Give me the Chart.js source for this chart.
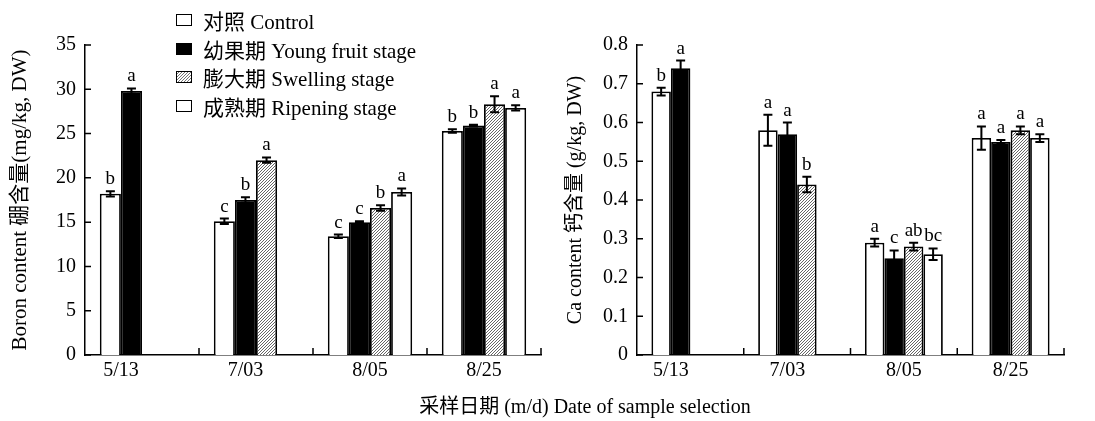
<!DOCTYPE html>
<html><head><meta charset="utf-8">
<script src="https://cdn.jsdelivr.net/npm/chart.js@4.4.0/dist/chart.umd.min.js"></script>
<style>
html,body{margin:0;padding:0;background:#fff;width:1095px;height:421px;overflow:hidden;position:relative;font-family:"Liberation Serif","Noto Sans CJK SC",serif;color:#000;}
#c1{position:absolute;left:0;top:0;}
#c2{position:absolute;left:545px;top:0;}
#legend{position:absolute;left:176px;top:6px;font-size:21px;}
.item{display:flex;align-items:center;height:28.5px;white-space:nowrap}
.box{width:16px;height:12px;border:1.8px solid #000;margin-right:11px;box-sizing:border-box}
#xtitle{position:absolute;top:395px;left:0;width:1170px;text-align:center;font-size:20px;line-height:23px}
</style>
</head><body>
<canvas id="c1" width="545" height="421"></canvas>
<canvas id="c2" width="550" height="421"></canvas>
<div id="legend"></div>
<div id="xtitle">采样日期 (m/d) Date of sample selection</div>
<script>
// ---- data ----
const categories = ['5/13', '7/03', '8/05', '8/25'];
const seriesNames = ['对照 Control', '幼果期 Young fruit stage', '膨大期 Swelling stage', '成熟期 Ripening stage'];

const boronControl  = [18.2, 15.1, 13.4, 25.3];
const boronYoung    = [29.8, 17.5, 15.0, 25.9];
const boronSwelling = [null, 22.0, 16.6, 28.3];
const boronRipening = [null, null, 18.4, 27.9];
const boronControlErr  = [0.3, 0.3, 0.2, 0.2];
const boronYoungErr    = [0.3, 0.3, 0.1, 0.1];
const boronSwellingErr = [null, 0.3, 0.3, 0.9];
const boronRipeningErr = [null, null, 0.4, 0.3];
const boronControlSig  = ['b', 'c', 'c', 'b'];
const boronYoungSig    = ['a', 'b', 'c', 'b'];
const boronSwellingSig = [null, 'a', 'b', 'a'];
const boronRipeningSig = [null, null, 'a', 'a'];

const caControl  = [0.68, 0.58, 0.29, 0.56];
const caYoung    = [0.74, 0.57, 0.25, 0.55];
const caSwelling = [null, 0.44, 0.28, 0.58];
const caRipening = [null, null, 0.26, 0.56];
const caControlErr  = [0.01, 0.04, 0.01, 0.03];
const caYoungErr    = [0.02, 0.03, 0.02, 0.005];
const caSwellingErr = [null, 0.02, 0.01, 0.01];
const caRipeningErr = [null, null, 0.015, 0.01];
const caControlSig  = ['b', 'a', 'a', 'a'];
const caYoungSig    = ['a', 'a', 'c', 'a'];
const caSwellingSig = [null, 'b', 'ab', 'a'];
const caRipeningSig = [null, null, 'bc', 'a'];

const boronTitle = 'Boron content 硼含量(mg/kg, DW)';
const caTitle = 'Ca content 钙含量 (g/kg, DW)';

// ---- styling ----
const FONT = "'Liberation Serif', 'Noto Sans CJK SC', serif";
function makeHatch() {
  const c = document.createElement('canvas'); c.width = 3; c.height = 3;
  const g = c.getContext('2d');
  g.fillStyle = '#fff'; g.fillRect(0, 0, 3, 3);
  g.strokeStyle = '#666'; g.lineWidth = 1;
  g.beginPath();
  g.moveTo(0, 3); g.lineTo(3, 0);
  g.moveTo(-1, 1); g.lineTo(1, -1);
  g.moveTo(2, 4); g.lineTo(4, 2);
  g.stroke();
  return g.createPattern(c, 'repeat');
}
const hatch = makeHatch();
const fills = ['#ffffff', '#000000', hatch, '#ffffff'];

// legend (HTML)
const legendFills = ['#fff', '#000', 'repeating-linear-gradient(135deg,#fff 0 1.2px,#777 1.2px 2.1px)', '#fff'];
const leg = document.getElementById('legend');
seriesNames.forEach((n, i) => {
  const d = document.createElement('div'); d.className = 'item';
  const b = document.createElement('span'); b.className = 'box'; b.style.background = legendFills[i];
  const t = document.createElement('span'); t.textContent = n;
  d.appendChild(b); d.appendChild(t); leg.appendChild(d);
});

const decor = {
  id: 'decor',
  afterDatasetsDraw(chart) {
    const ctx = chart.ctx, y = chart.scales.y, x = chart.scales.x;
    ctx.save();
    ctx.strokeStyle = '#000'; ctx.fillStyle = '#000';
    // error bars + letters
    chart.data.datasets.forEach((ds, di) => {
      const meta = chart.getDatasetMeta(di);
      meta.data.forEach((bar, i) => {
        const v = ds.data[i]; if (v == null) return;
        const e = ds.errors[i] || 0;
        const top = y.getPixelForValue(v + e), bot = y.getPixelForValue(v - e);
        if (e > 0) {
          ctx.lineWidth = 2;
          ctx.beginPath();
          ctx.moveTo(bar.x, top); ctx.lineTo(bar.x, bot);
          ctx.moveTo(bar.x - 4.5, top); ctx.lineTo(bar.x + 4.5, top);
          ctx.moveTo(bar.x - 4.5, bot); ctx.lineTo(bar.x + 4.5, bot);
          ctx.stroke();
        }
        if (ds.sig[i]) {
          ctx.font = "19px " + FONT;
          ctx.textAlign = 'center'; ctx.textBaseline = 'alphabetic';
          ctx.fillText(ds.sig[i], bar.x, top - 7);
        }
      });
    });
    // inward ticks on y axis
    ctx.lineWidth = 1.5;
    ctx.beginPath();
    y.ticks.forEach(t => {
      const py = y.getPixelForValue(t.value);
      ctx.moveTo(y.right, py); ctx.lineTo(y.right + 6, py);
    });
    // inward ticks at category boundaries on x axis
    for (let i = 1; i <= categories.length; i++) {
      const px = x.getPixelForValue(i - 0.5);
      ctx.moveTo(px, x.top); ctx.lineTo(px, x.top - 7);
    }
    ctx.stroke();
    // category labels centred under the bars present
    ctx.font = "20px " + FONT;
    ctx.textAlign = 'center'; ctx.textBaseline = 'top';
    chart.data.labels.forEach((lab, i) => {
      const xs = [];
      chart.data.datasets.forEach((ds, di) => {
        if (ds.data[i] != null) xs.push(chart.getDatasetMeta(di).data[i].x);
      });
      const cx = (Math.min(...xs) + Math.max(...xs)) / 2;
      ctx.fillText(lab, cx, x.top + 6);
    });
    ctx.restore();
  }
};

function build(id, series, errs, sigs, ymax, step, title, titleSize, padL, padR, yW, catPct) {
  const datasets = series.map((s, i) => ({
    label: seriesNames[i], data: s, errors: errs[i], sig: sigs[i],
    backgroundColor: fills[i], borderColor: '#000', borderWidth: 1.8,
    categoryPercentage: catPct, barPercentage: 1.0
  }));
  return new Chart(document.getElementById(id), {
    type: 'bar',
    data: { labels: categories, datasets },
    options: {
      responsive: false, animation: false, devicePixelRatio: 1,
      layout: { padding: { top: 45, left: padL, right: padR, bottom: 0 } },
      plugins: { legend: { display: false }, tooltip: { enabled: false } },
      scales: {
        x: {
          grid: { display: false, drawTicks: false },
          border: { display: true, color: '#000', width: 1.5 },
          ticks: { display: false },
          afterFit(s) { s.height = 66; }
        },
        y: {
          min: 0, max: ymax,
          grid: { display: false, drawTicks: false },
          border: { display: true, color: '#000', width: 1.5 },
          ticks: { stepSize: step, padding: 9, color: '#000', font: { family: FONT, size: 20 } },
          title: { display: true, text: title, color: '#000', font: { family: FONT, size: titleSize }, padding: { top: 4, bottom: 4 } },
          afterFit(s) { s.width = yW; }
        }
      }
    },
    plugins: [decor]
  });
}

build('c1',
  [boronControl, boronYoung, boronSwelling, boronRipening],
  [boronControlErr, boronYoungErr, boronSwellingErr, boronRipeningErr],
  [boronControlSig, boronYoungSig, boronSwellingSig, boronRipeningSig],
  35, 5, boronTitle, 21, 3.5, 4, 81.5, 0.74);
build('c2',
  [caControl, caYoung, caSwelling, caRipening],
  [caControlErr, caYoungErr, caSwellingErr, caRipeningErr],
  [caControlSig, caYoungSig, caSwellingSig, caRipeningSig],
  0.8, 0.1, caTitle, 20, 15, 31, 77, 0.73);
</script>
</body></html>
